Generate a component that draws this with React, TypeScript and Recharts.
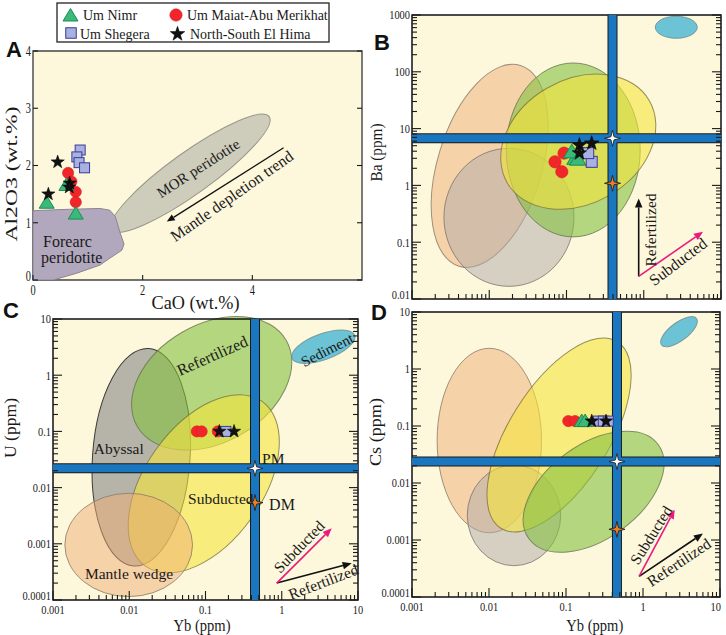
import React from 'react';
import { ScatterChart, Scatter, XAxis, YAxis, ReferenceArea, ReferenceLine } from 'recharts';

const W = 726;
const H = 635;
const SERIF = '"Liberation Serif", "Times New Roman", serif';
const SANS = '"Liberation Sans", Arial, sans-serif';
const PLOT_BG = '#fdf7dc';
const BAND_BLUE = '#1a76be';
const PINK = '#ec1a7c';
const INK = '#1a1a1a';

type Pt = { x: number; y: number };
type Field = { kind: string; x1: number; x2: number; y1: number; y2: number };

const legendNames = ['Um Nimr', 'Um Maiat-Abu Merikhat', 'Um Shegera', 'North-South El Hima'];

// ---- A: CaO vs Al2O3 (wt.%)
const aCaoTicks = [0, 2, 4];
const aAlTicks = [0, 1, 2, 3, 4];
const aNimr: Pt[] = [{ x: 0.25, y: 1.35 }, { x: 0.78, y: 1.16 }, { x: 0.61, y: 1.66 }];
const aMaiat: Pt[] = [{ x: 0.64, y: 1.87 }, { x: 0.7, y: 1.72 }, { x: 0.78, y: 1.54 }, { x: 0.78, y: 1.36 }];
const aShegera: Pt[] = [{ x: 0.86, y: 2.27 }, { x: 0.8, y: 2.15 }, { x: 0.84, y: 2.05 }, { x: 0.94, y: 1.96 }];
const aHima: Pt[] = [{ x: 0.28, y: 1.5 }, { x: 0.45, y: 2.06 }, { x: 0.67, y: 1.69 }, { x: 0.66, y: 1.62 }];
const aForearc: Pt[] = [
  { x: 0, y: 1.21 }, { x: 0.49, y: 1.23 }, { x: 1.22, y: 1.25 }, { x: 1.4, y: 1.22 },
  { x: 1.5, y: 1.11 }, { x: 1.59, y: 0.82 }, { x: 1.66, y: 0.63 }, { x: 1.62, y: 0.52 },
  { x: 1.4, y: 0.38 }, { x: 1.22, y: 0.26 }, { x: 0.8, y: 0.12 }, { x: 0.37, y: 0 }, { x: 0, y: 0 },
];
const aMor: Field = { kind: 'mor', x1: 1.1, x2: 4.64, y1: 1.5, y2: 2.23 };
const aMorTilt = -35.7;
const aTrend: Pt[] = [{ x: 4.57, y: 2.31 }, { x: 2.44, y: 1.02 }];

// ---- log axes (decades)
const ybDecades = [0.001, 0.01, 0.1, 1, 10];
const baDecades = [0.01, 0.1, 1, 10, 100, 1000];
const uDecades = [0.0001, 0.001, 0.01, 0.1, 1, 10];
const csDecades = [0.0001, 0.001, 0.01, 0.1, 1, 10];

// ---- B: Yb vs Ba
const bNimr: Pt[] = [{ x: 0.129, y: 3.0 }, { x: 0.117, y: 3.9 }, { x: 0.14, y: 2.9 }];
const bMaiat: Pt[] = [{ x: 0.071, y: 2.6 }, { x: 0.093, y: 3.7 }, { x: 0.087, y: 1.74 }];
const bShegera: Pt[] = [{ x: 0.212, y: 2.6 }, { x: 0.191, y: 3.7 }];
const bHima: Pt[] = [{ x: 0.147, y: 5.1 }, { x: 0.147, y: 3.7 }, { x: 0.212, y: 5.5 }];
const bPM: Pt = { x: 0.394, y: 6.75 };
const bDM: Pt = { x: 0.394, y: 1.09 };
const bFields: Field[] = [
  { kind: 'wedge', x1: 0.00215, x2: 0.0478, y1: 0.0313, y2: 156 },
  { kind: 'abyssal', x1: 0.00259, x2: 0.125, y1: 0.0167, y2: 4.5 },
  { kind: 'refert', x1: 0.0166, x2: 0.9, y1: 0.124, y2: 143 },
  { kind: 'subduct', x1: 0.0123, x2: 1.64, y1: 0.476, y2: 72.6 },
  { kind: 'sediment', x1: 1.41, x2: 4.93, y1: 389, y2: 949 },
];
const bTilt = [17, 0, 0, -30, 0];
const bRefertArrow: Pt[] = [{ x: 0.86, y: 0.025 }, { x: 0.86, y: 0.59 }];
const bSubductArrow: Pt[] = [{ x: 0.86, y: 0.025 }, { x: 5.85, y: 0.153 }];

// ---- C: Yb vs U
const cNimr: Pt[] = [];
const cMaiat: Pt[] = [{ x: 0.077, y: 0.1 }, { x: 0.089, y: 0.1 }, { x: 0.145, y: 0.1 }];
const cShegera: Pt[] = [{ x: 0.185, y: 0.1 }];
const cHima: Pt[] = [{ x: 0.152, y: 0.1 }, { x: 0.237, y: 0.1 }];
const cPM: Pt = { x: 0.446, y: 0.022 };
const cDM: Pt = { x: 0.446, y: 0.0054 };
const cFields: Field[] = [
  { kind: 'abyssalDark', x1: 0.0033, x2: 0.0627, y1: 0.000398, y2: 3.01 },
  { kind: 'refert', x1: 0.00897, x2: 1.62, y1: 0.064, y2: 8.05 },
  { kind: 'subduct', x1: 0.0045, x2: 2.0, y1: 0.00105, y2: 0.13 },
  { kind: 'wedge', x1: 0.00143, x2: 0.0676, y1: 0.000115, y2: 0.00792 },
  { kind: 'sediment', x1: 1.28, x2: 9.6, y1: 1.89, y2: 5.47 },
];
const cTilt = [4, -30, -54.7, 0, -20];
const cRefertArrow: Pt[] = [{ x: 0.86, y: 0.0002 }, { x: 8.26, y: 0.00045 }];
const cSubductArrow: Pt[] = [{ x: 0.86, y: 0.0002 }, { x: 4.52, y: 0.00189 }];

// ---- D: Yb vs Cs
const dNimr: Pt[] = [{ x: 0.16, y: 0.122 }, { x: 0.177, y: 0.122 }];
const dMaiat: Pt[] = [{ x: 0.107, y: 0.122 }, { x: 0.131, y: 0.122 }];
const dShegera: Pt[] = [{ x: 0.262, y: 0.122 }, { x: 0.305, y: 0.122 }, { x: 0.354, y: 0.122 }];
const dHima: Pt[] = [{ x: 0.216, y: 0.122 }, { x: 0.331, y: 0.122 }];
const dPM: Pt = { x: 0.459, y: 0.0238 };
const dDM: Pt = { x: 0.459, y: 0.00154 };
const dFields: Field[] = [
  { kind: 'wedge', x1: 0.00212, x2: 0.0481, y1: 0.00134, y2: 2.31 },
  { kind: 'abyssal', x1: 0.00522, x2: 0.0853, y1: 0.000354, y2: 0.0207 },
  { kind: 'subduct', x1: 0.00303, x2: 2.18, y1: 0.00923, y2: 0.524 },
  { kind: 'refert', x1: 0.0209, x2: 2.5, y1: 0.00105, y2: 0.047 },
  { kind: 'sediment', x1: 1.52, x2: 5.66, y1: 3.13, y2: 6.49 },
];
const dTilt = [0, 0, -58, -36, -37];
const dRefertArrow: Pt[] = [{ x: 0.89, y: 0.00023 }, { x: 6.0, y: 0.0013 }];
const dSubductArrow: Pt[] = [{ x: 0.89, y: 0.00023 }, { x: 2.58, y: 0.0034 }];

const fieldStyle: Record<string, { fill: string; opacity: number; stroke: string }> = {
  mor: { fill: '#bdbdb0', opacity: 0.75, stroke: '#85857c' },
  wedge: { fill: '#efad74', opacity: 0.5, stroke: '#8a7a6a' },
  abyssal: { fill: '#b0a9aa', opacity: 0.5, stroke: '#7a7470' },
  abyssalDark: { fill: '#878787', opacity: 0.6, stroke: '#111111' },
  refert: { fill: '#83c03f', opacity: 0.6, stroke: '#66744e' },
  subduct: { fill: '#f5e53c', opacity: 0.6, stroke: '#7a7440' },
  sediment: { fill: '#6cc3d6', opacity: 1, stroke: '#6a8a90' },
};

// ---------- drawing helpers
const starPoints = (cx: number, cy: number, R: number, r: number, n: number) => {
  const out: string[] = [];
  for (let i = 0; i < 2 * n; i++) {
    const a = -Math.PI / 2 + (i * Math.PI) / n;
    const rad = i % 2 ? r : R;
    out.push(`${(cx + rad * Math.cos(a)).toFixed(2)},${(cy + rad * Math.sin(a)).toFixed(2)}`);
  }
  return out.join(' ');
};

const drawMarker = (kind: number, cx: number, cy: number, s = 1) => {
  if (kind === 0)
    return (
      <polygon
        points={`${cx},${cy - 7 * s} ${cx - 7.5 * s},${cy + 5.5 * s} ${cx + 7.5 * s},${cy + 5.5 * s}`}
        fill="#3bb97a" stroke="#1d8c52" strokeWidth={1}
      />
    );
  if (kind === 1) return <circle cx={cx} cy={cy} r={5.6 * s} fill="#f0262a" stroke="#d81c1c" strokeWidth={0.6} />;
  if (kind === 2)
    return <rect x={cx - 5 * s} y={cy - 5 * s} width={10 * s} height={10 * s} fill="#a8b1e0" stroke="#3a3a98" strokeWidth={1} />;
  return <polygon points={starPoints(cx, cy, 7 * s, 2.8 * s, 5)} fill="#111" stroke="#000" strokeWidth={0.5} />;
};

const markerShape = (kind: number, s: number) => (p: any) =>
  p.cx == null ? <g /> : drawMarker(kind, Number(p.cx), Number(p.cy), s);

const crossStar = (fill: string) => (p: any) =>
  p.cx == null ? <g /> : <polygon points={starPoints(Number(p.cx), Number(p.cy), 8, 2.2, 4)} fill={fill} stroke="#222" strokeWidth={0.9} />;

const ellipseShape = (tilt: number, st: { fill: string; opacity: number; stroke: string }) => (p: any) => {
  const w = Math.abs(Number(p.width));
  const h = Math.abs(Number(p.height));
  const cx = Number(p.x) + w / 2;
  const cy = Number(p.y) + h / 2;
  return (
    <ellipse
      cx={cx} cy={cy} rx={w / 2} ry={h / 2}
      transform={`rotate(${tilt} ${cx} ${cy})`}
      fill={st.fill} fillOpacity={st.opacity} stroke={st.stroke} strokeOpacity={0.8} strokeWidth={1}
    />
  );
};

const arrowShape = (color: string, width = 1.6, head = 9) => (p: any) => {
  const x1 = Number(p.x1), y1 = Number(p.y1), x2 = Number(p.x2), y2 = Number(p.y2);
  const ang = Math.atan2(y2 - y1, x2 - x1);
  const bx = x2 - head * Math.cos(ang);
  const by = y2 - head * Math.sin(ang);
  const hw = head * 0.42;
  const pts = `${x2},${y2} ${bx - hw * Math.sin(ang)},${by + hw * Math.cos(ang)} ${bx + hw * Math.sin(ang)},${by - hw * Math.cos(ang)}`;
  return (
    <g>
      <line x1={x1} y1={y1} x2={bx} y2={by} stroke={color} strokeWidth={width} />
      <polygon points={pts} fill={color} />
    </g>
  );
};

const forearcPath = (p: any) => {
  const pts: { x: number; y: number }[] = p.points || [];
  const d = pts.map((q, i) => `${i ? 'L' : 'M'}${q.x},${q.y}`).join(' ') + ' Z';
  return <path d={d} fill="#b2a8bd" stroke="#8c8496" strokeWidth={1} strokeLinejoin="round" />;
};

const logTicks = (decades: number[]) => {
  const t: number[] = [];
  decades.forEach((d, i) => {
    if (i === decades.length - 1) {
      t.push(d);
      return;
    }
    for (let k = 1; k <= 9; k++) t.push(d * k);
  });
  return t;
};

const numWidth = (s: string, fs: number) => [...s].reduce((a, c) => a + (c === '.' ? 0.25 : 0.5), 0) * fs;

type Side = 'bottom' | 'top' | 'left' | 'right';
const makeTick = (side: Side, majors: number[], major: number, minor: number, labels: boolean, fs: number, squeeze: number, gap: number) =>
  (p: any) => {
    const v = Number(p.payload?.value);
    const isMajor = majors.some((m) => (m === 0 ? v === 0 : Math.abs(v / m - 1) < 1e-6));
    const isFirst = v === majors[0];
    const isLast = v === majors[majors.length - 1];
    const L = isMajor ? major : minor;
    const x = Number(p.x);
    const y = Number(p.y);
    let x2 = x;
    let y2 = y;
    if (side === 'bottom') y2 = y - L;
    else if (side === 'top') y2 = y + L;
    else if (side === 'left') x2 = x + L;
    else x2 = x - L;
    const txt = String(v);
    const len = numWidth(txt, fs) * squeeze;
    // keep the corner labels clear of each other and of the page edge
    const bx = isLast && x + len / 2 > W - 5 ? W - 5 - len / 2 : x;
    const ly = isFirst ? y - 4 : y;
    return (
      <g>
        <line x1={x} y1={y} x2={x2} y2={y2} stroke={INK} strokeWidth={1.1} />
        {labels && isMajor && side === 'bottom' && (
          <text x={bx} y={y + gap} textAnchor="middle" fontSize={fs} fontFamily={SERIF} fill={INK} textLength={len} lengthAdjust="spacingAndGlyphs">
            {txt}
          </text>
        )}
        {labels && isMajor && side === 'left' && (
          <text x={x - 2} y={ly + fs * 0.34} textAnchor="end" fontSize={fs} fontFamily={SERIF} fill={INK} textLength={len} lengthAdjust="spacingAndGlyphs">
            {txt}
          </text>
        )}
      </g>
    );
  };

const drawOrder = [1, 0, 2, 3];

// axes get a 1px band (a zero-sized axis is not drawn); margins are shrunk by 1 to compensate
const chartMargin = (L: number, T: number, R: number, B: number) => ({ left: L - 1, top: T - 1, right: W - R - 1, bottom: H - B - 1 });

function PanelA() {
  const [L, T, R, B] = [33, 51, 362, 280];
  const groups = [aNimr, aMaiat, aShegera, aHima];
  const common = { type: 'number' as const, allowDataOverflow: true, axisLine: false, tickLine: false, tickSize: 0, tickMargin: 0, interval: 0 as const };
  return (
    <div style={{ position: 'absolute', left: 0, top: 0 }}>
      <ScatterChart width={W} height={H} margin={chartMargin(L, T, R, B)}>
        <ReferenceArea x1={0} x2={6} y1={0} y2={4} fill={PLOT_BG} fillOpacity={1} stroke="none" ifOverflow="visible" />
        <Scatter data={aForearc} line={forearcPath} lineType="joint" shape={() => <g />} isAnimationActive={false} />
        <ReferenceArea x1={aMor.x1} x2={aMor.x2} y1={aMor.y1} y2={aMor.y2} ifOverflow="visible" shape={ellipseShape(aMorTilt, fieldStyle.mor)} />
        <ReferenceLine segment={aTrend} ifOverflow="visible" shape={arrowShape('#111', 1.3, 8)} />
        {drawOrder.map((k) => (
          <Scatter key={k} data={groups[k]} shape={markerShape(k, 1)} isAnimationActive={false} />
        ))}
        <ReferenceArea x1={0} x2={6} y1={0} y2={4} fill="none" stroke="#444" strokeWidth={1.4} ifOverflow="visible" />
        <XAxis {...common} dataKey="x" domain={[0, 6]} ticks={aCaoTicks} height={1} tick={makeTick('bottom', aCaoTicks, 5, 5, true, 14, 0.74, 14.5)} />
        <XAxis {...common} xAxisId="top" orientation="top" domain={[0, 6]} ticks={aCaoTicks} height={1} tick={makeTick('top', aCaoTicks, 5, 5, false, 14, 0.74, 14.5)} />
        <YAxis {...common} dataKey="y" domain={[0, 4]} ticks={aAlTicks} width={1} tick={makeTick('left', aAlTicks, 5, 5, true, 14, 0.74, 14.5)} />
        <YAxis {...common} yAxisId="right" orientation="right" domain={[0, 4]} ticks={aAlTicks} width={1} tick={makeTick('right', aAlTicks, 5, 5, false, 14, 0.74, 14.5)} />
      </ScatterChart>
    </div>
  );
}

type LogPanelProps = {
  box: number[];
  xDecades: number[];
  yDecades: number[];
  fields: Field[];
  tilt: number[];
  pm: Pt;
  dm: Pt;
  groups: Pt[][];
  refArrow: Pt[];
  subArrow: Pt[];
  xLabels: boolean;
  size: number;
};

function LogPanel({ box, xDecades, yDecades, fields, tilt, pm, dm, groups, refArrow, subArrow, xLabels, size }: LogPanelProps) {
  const [L, T, R, B] = box;
  const xd: [number, number] = [xDecades[0], xDecades[xDecades.length - 1]];
  const yd: [number, number] = [yDecades[0], yDecades[yDecades.length - 1]];
  const xt = logTicks(xDecades);
  const yt = logTicks(yDecades);
  const common = {
    type: 'number' as const, scale: 'log' as const, allowDataOverflow: true, axisLine: false,
    tickLine: false, tickSize: 0, tickMargin: 0, interval: 0 as const,
  };
  return (
    <div style={{ position: 'absolute', left: 0, top: 0 }}>
      <ScatterChart width={W} height={H} margin={chartMargin(L, T, R, B)}>
        <ReferenceArea x1={xd[0]} x2={xd[1]} y1={yd[0]} y2={yd[1]} fill={PLOT_BG} fillOpacity={1} stroke="none" ifOverflow="visible" />
        {fields.map((f, i) => (
          <ReferenceArea key={i} x1={f.x1} x2={f.x2} y1={f.y1} y2={f.y2} ifOverflow="hidden" shape={ellipseShape(tilt[i], fieldStyle[f.kind])} />
        ))}
        <ReferenceLine x={pm.x} stroke="#1a1a1a" strokeWidth={10} />
        <ReferenceLine y={pm.y} stroke="#1a1a1a" strokeWidth={10} />
        <ReferenceLine x={pm.x} stroke={BAND_BLUE} strokeWidth={8} />
        <ReferenceLine y={pm.y} stroke={BAND_BLUE} strokeWidth={8} />
        <ReferenceLine segment={refArrow} ifOverflow="visible" shape={arrowShape('#111', 1.6, 9)} />
        <ReferenceLine segment={subArrow} ifOverflow="visible" shape={arrowShape(PINK, 1.6, 9)} />
        {drawOrder.map((k) =>
          groups[k].length ? <Scatter key={k} data={groups[k]} shape={markerShape(k, size)} isAnimationActive={false} /> : null,
        )}
        <Scatter data={[pm]} shape={crossStar('#ffffff')} isAnimationActive={false} />
        <Scatter data={[dm]} shape={crossStar('#f07f22')} isAnimationActive={false} />
        <ReferenceArea x1={xd[0]} x2={xd[1]} y1={yd[0]} y2={yd[1]} fill="none" stroke="#111" strokeWidth={1.5} ifOverflow="visible" />
        <XAxis {...common} dataKey="x" domain={xd} ticks={xt} height={1} tick={makeTick('bottom', xDecades, 9, 5, xLabels, 13, 0.8, 14)} />
        <XAxis {...common} xAxisId="top" orientation="top" domain={xd} ticks={xt} height={1} tick={makeTick('top', xDecades, 9, 5, false, 13, 0.8, 14)} />
        <YAxis {...common} dataKey="y" domain={yd} ticks={yt} width={1} tick={makeTick('left', yDecades, 9, 5, true, 13, 0.8, 14)} />
        <YAxis {...common} yAxisId="right" orientation="right" domain={yd} ticks={yt} width={1} tick={makeTick('right', yDecades, 9, 5, false, 13, 0.8, 14)} />
      </ScatterChart>
    </div>
  );
}

const Txt = ({ x, y, fs = 15.5, rot = 0, len, children }: { x: number; y: number; fs?: number; rot?: number; len?: number; children: React.ReactNode }) => (
  <text
    x={x} y={y} fontSize={fs} fontFamily={SERIF} fill={INK} textAnchor="middle" dominantBaseline="central"
    transform={rot ? `rotate(${rot} ${x} ${y})` : undefined}
    textLength={len} lengthAdjust={len ? 'spacingAndGlyphs' : undefined}
  >
    {children}
  </text>
);

function Overlay() {
  const letter = { fontFamily: SANS, fontWeight: 700, fontSize: 22, fill: '#111' };
  return (
    <svg width={W} height={H} style={{ position: 'absolute', left: 0, top: 0, pointerEvents: 'none' }}>
      {/* legend */}
      <rect x={57} y={3} width={272} height={39} fill="#fff" stroke="#333" strokeWidth={1.4} />
      {drawMarker(0, 70.5, 15.5, 1)}
      {drawMarker(1, 176, 15, 1.1)}
      {drawMarker(2, 71, 33, 1.05)}
      {drawMarker(3, 177.5, 34, 1.1)}
      <text x={83} y={20} fontSize={14} fontFamily={SERIF} fill={INK}>{legendNames[0]}</text>
      <text x={187} y={20} fontSize={14} fontFamily={SERIF} fill={INK}>{legendNames[1]}</text>
      <text x={80} y={38.5} fontSize={14} fontFamily={SERIF} fill={INK}>{legendNames[2]}</text>
      <text x={190} y={38.5} fontSize={14} fontFamily={SERIF} fill={INK}>{legendNames[3]}</text>

      {/* panel letters */}
      <text x={6} y={57} {...letter}>A</text>
      <text x={374} y={50} {...letter}>B</text>
      <text x={3} y={318} {...letter}>C</text>
      <text x={371} y={320} {...letter}>D</text>

      {/* axis titles */}
      <Txt x={195.5} y={303} fs={18} len={88}>CaO (wt.%)</Txt>
      <Txt x={11} y={174} fs={17} rot={-90} len={135}>Al2O3 (wt.%)</Txt>
      <Txt x={376} y={152.5} fs={16} rot={-90} len={58}>Ba (ppm)</Txt>
      <Txt x={202} y={625} fs={16.5} len={57}>Yb (ppm)</Txt>
      <Txt x={10.5} y={428} fs={16} rot={-90} len={60}>U (ppm)</Txt>
      <Txt x={594.8} y={625} fs={16.5} len={57}>Yb (ppm)</Txt>
      <Txt x={375} y={432} fs={16} rot={-90} len={68}>Cs (ppm)</Txt>

      {/* panel A annotations */}
      <Txt x={198.3} y={168.3} fs={15} rot={-33}>MOR peridotite</Txt>
      <Txt x={231.7} y={196} fs={16} rot={-35}>Mantle depletion trend</Txt>
      <Txt x={67.5} y={241} fs={16}>Forearc</Txt>
      <Txt x={71.7} y={257.5} fs={16}>peridotite</Txt>

      {/* panel B annotations */}
      <Txt x={650} y={230} fs={15.5} rot={-90}>Refertilized</Txt>
      <Txt x={678} y={261.7} fs={16} rot={-37}>Subducted</Txt>

      {/* panel C annotations */}
      <Txt x={212.3} y={355.7} fs={16} rot={-24}>Refertilized</Txt>
      <Txt x={118.8} y={448} fs={15.5}>Abyssal</Txt>
      <Txt x={220.8} y={498.5} fs={15.5}>Subducted</Txt>
      <Txt x={273.3} y={458.3} fs={15.5}>PM</Txt>
      <Txt x={282} y={504} fs={16}>DM</Txt>
      <Txt x={129} y={573} fs={15.5}>Mantle wedge</Txt>
      <Txt x={327.3} y={350} fs={15} rot={-27}>Sediment</Txt>
      <Txt x={299} y={546.7} fs={15.5} rot={-46}>Subducted</Txt>
      <Txt x={323.3} y={581.7} fs={15.5} rot={-21}>Refertilized</Txt>

      {/* panel D annotations */}
      <Txt x={651} y={535} fs={15.5} rot={-58}>Subducted</Txt>
      <Txt x={678.7} y={562.3} fs={15.5} rot={-34}>Refertilized</Txt>
    </svg>
  );
}

export default function App() {
  return (
    <div style={{ position: 'absolute', left: 0, top: 0, width: W, height: H, background: '#fff', fontFamily: SERIF }}>
      <PanelA />
      <LogPanel
        box={[412, 15, 721, 299]} xDecades={ybDecades} yDecades={baDecades}
        fields={bFields} tilt={bTilt} pm={bPM} dm={bDM}
        groups={[bNimr, bMaiat, bShegera, bHima]}
        refArrow={bRefertArrow} subArrow={bSubductArrow} xLabels={false} size={1.1}
      />
      <LogPanel
        box={[53, 319, 358, 600]} xDecades={ybDecades} yDecades={uDecades}
        fields={cFields} tilt={cTilt} pm={cPM} dm={cDM}
        groups={[cNimr, cMaiat, cShegera, cHima]}
        refArrow={cRefertArrow} subArrow={cSubductArrow} xLabels={true} size={1}
      />
      <LogPanel
        box={[412, 312, 720, 597]} xDecades={ybDecades} yDecades={csDecades}
        fields={dFields} tilt={dTilt} pm={dPM} dm={dDM}
        groups={[dNimr, dMaiat, dShegera, dHima]}
        refArrow={dRefertArrow} subArrow={dSubductArrow} xLabels={true} size={1}
      />
      <Overlay />
    </div>
  );
}
